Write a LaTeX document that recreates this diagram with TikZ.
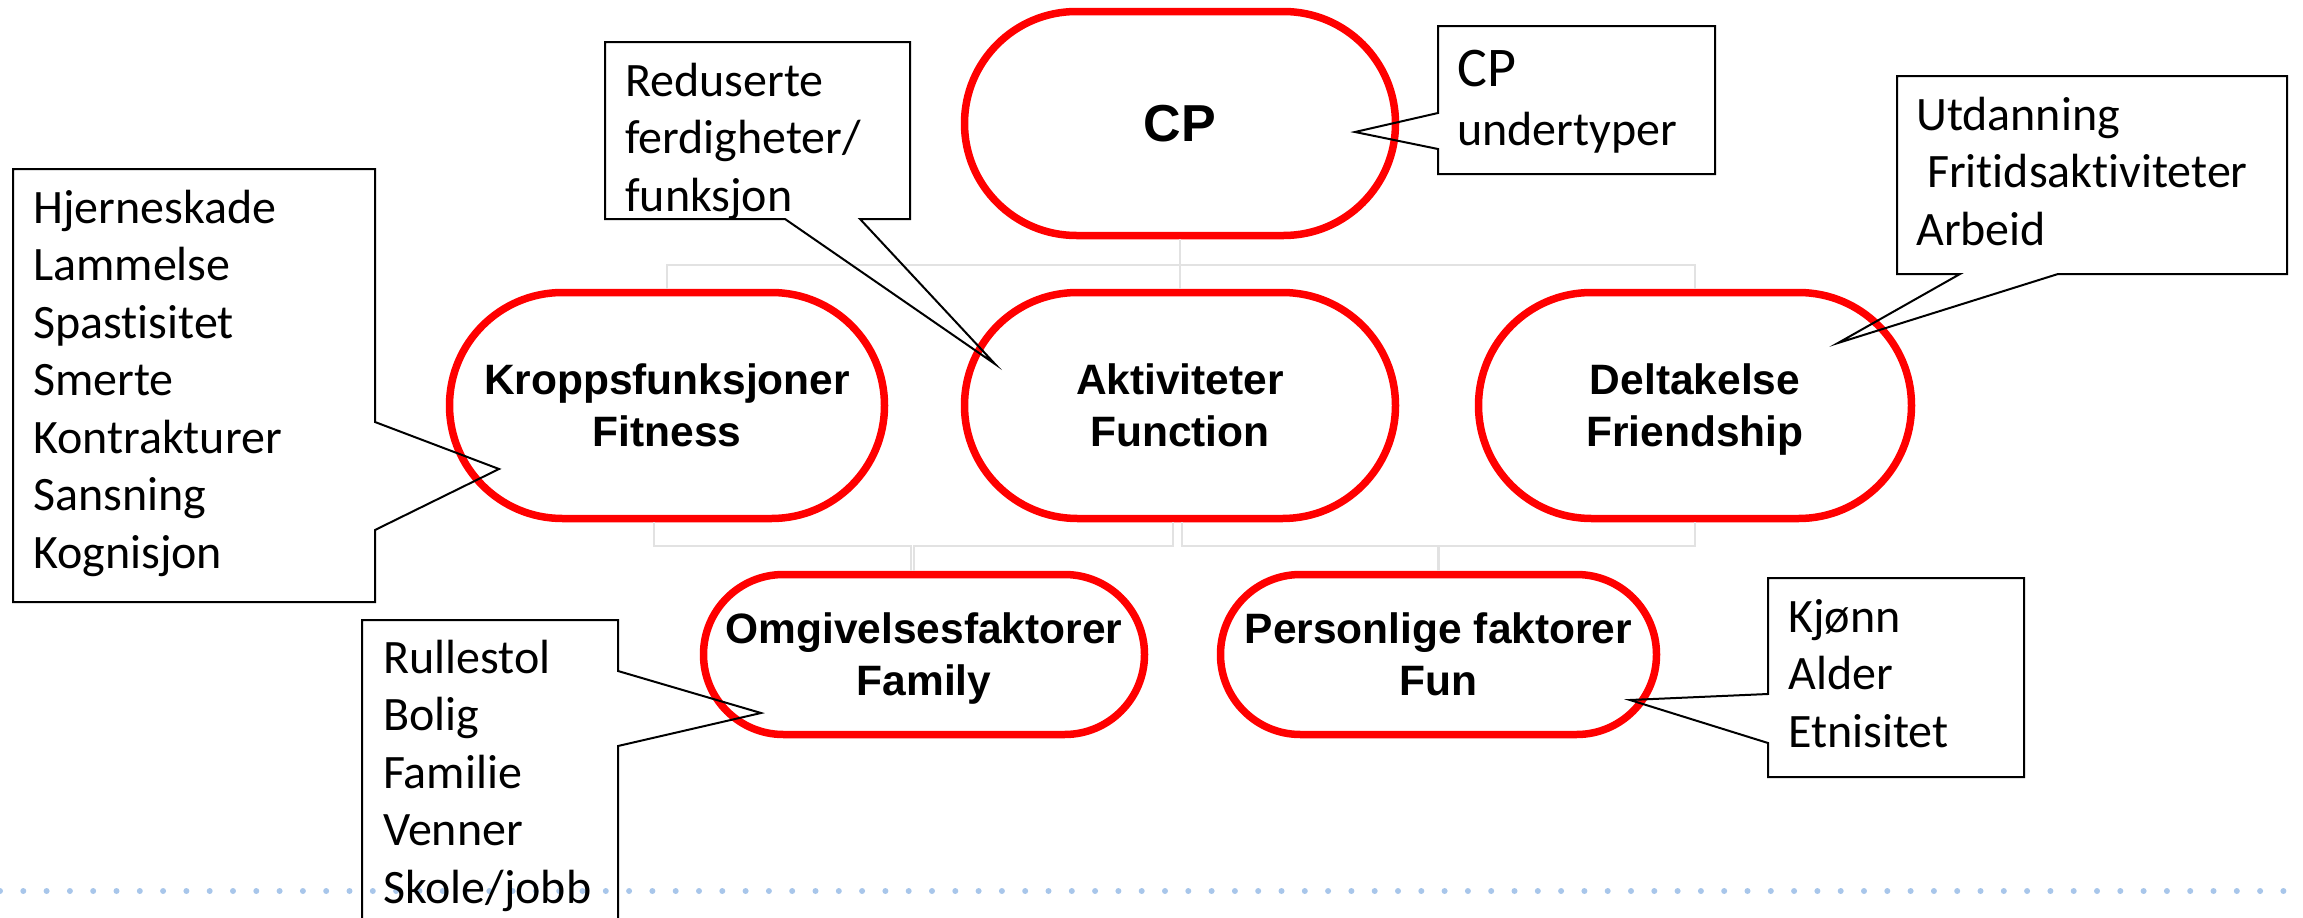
\documentclass[tikz,border=0pt]{standalone}
\usepackage{fontspec}
\setmainfont{Carlito}[Ligatures=NoCommon]
\newfontfamily\arialfont{Liberation Sans}
\usetikzlibrary{positioning}

\definecolor{linkgray}{RGB}{226,226,226}
\definecolor{dotblue}{RGB}{168,198,234}

\tikzset{
  pill/.style={rectangle, draw=red, line width=7.5pt, align=center, inner sep=0pt, text depth=0pt,
    font=\arialfont\bfseries\fontsize{42.5}{52}\selectfont},
  link/.style={draw=linkgray, line width=2.2pt},
  callout/.style={draw=black, line width=2pt, line join=miter},
  note/.style={anchor=base west, align=left, inner sep=0pt,
    font=\fontsize{48}{57.5}\selectfont},
  dotline/.style={draw=dotblue, line width=6pt, line cap=round, dash pattern=on 0pt off 23.3pt},
}

\begin{document}
\begin{tikzpicture}[x=1pt,y=1pt,yscale=-1,xscale=1]
        %set diagram size
        \path[use as bounding box] (0,0) rectangle (2303,918);

        %Straight Lines: dotted footer
        \draw[dotline] (0,891) -- (2303,891);

        %Shape: Rounded Rect
        \node[pill, minimum width=431pt, minimum height=224pt, rounded corners=111.9pt,
          font=\arialfont\bfseries\fontsize{52}{60}\selectfont] (cp) at (1180,123.5) {CP};
        %Shape: Rounded Rect
        \node[pill, minimum width=435pt, minimum height=226pt, rounded corners=112.9pt] (kropp) at (667,405.5) {Kroppsfunksjoner\\Fitness};
        %Shape: Rounded Rect
        \node[pill, minimum width=431pt, minimum height=226pt, rounded corners=112.9pt] (aktiv) at (1180,405.5) {Aktiviteter\\Function};
        %Shape: Rounded Rect
        \node[pill, minimum width=433pt, minimum height=226pt, rounded corners=112.9pt] (delta) at (1695,405.5) {Deltakelse\\Friendship};
        %Shape: Rounded Rect
        \node[pill, minimum width=441pt, minimum height=160pt, rounded corners=79.9pt] (omgiv) at (924,654.5) {Omgivelsesfaktorer\\Family};
        %Shape: Rounded Rect
        \node[pill, minimum width=436pt, minimum height=160pt, rounded corners=79.9pt] (person) at (1438.5,654.5) {Personlige faktorer\\Fun};

        %Connectors
        \draw[link] (cp.south) -- ++(0,26) -| (kropp.north);
        \draw[link] (cp.south) -- (aktiv.north);
        \draw[link] (cp.south) -- ++(0,26) -| (delta.north);
        \draw[link] ([xshift=-13pt]kropp.south) -- ++(0,24) -| ([xshift=-13pt]omgiv.north);
        \draw[link] ([xshift=-7pt]aktiv.south) -- ++(0,24) -| ([xshift=-10pt]omgiv.north);
        \draw[link] ([xshift=2pt]aktiv.south) -- ++(0,24) -| (person.north);
        \draw[link] (delta.south) -- ++(0,24) -| (person.north);

        %Shape: Callout (Kroppsfunksjoner)
        \draw[callout] (13,169) -- (375,169) -- (375,422) -- (499,469) -- (375,530) -- (375,602) -- (13,602) -- cycle;
        %Shape: Callout (Aktiviteter)
        \draw[callout] (605,42) -- (910,42) -- (910,219) -- (860,219) -- (995,364) -- (785,219) -- (605,219) -- cycle;
        %Shape: Callout (CP)
        \draw[callout] (1438,26) -- (1715,26) -- (1715,174) -- (1438,174) -- (1438,149) -- (1355,132) -- (1438,113) -- cycle;
        %Shape: Callout (Deltakelse)
        \draw[callout] (1897,76) -- (2287,76) -- (2287,274) -- (2058,274) -- (1838,343) -- (1960,274) -- (1897,274) -- cycle;
        %Shape: Callout (Omgivelsesfaktorer)
        \draw[callout] (362,930) -- (362,620) -- (618,620) -- (618,671) -- (761,713) -- (618,746) -- (618,930);
        %Shape: Callout (Personlige faktorer)
        \draw[callout] (1768,578) -- (2024,578) -- (2024,777) -- (1768,777) -- (1768,743) -- (1630,700) -- (1768,694) -- cycle;

        % Text Node (anchored at last baseline)
        \node[note] (hjerne) at (33,568) {Hjerneskade\\Lammelse\\Spastisitet\\Smerte\\Kontrakturer\\Sansning\\Kognisjon};
        % Text Node
        \node[note] (redus) at (625,211) {Reduserte\\ferdigheter/\\funksjon};
        % Text Node
        \node[note, font=\fontsize{48}{59}\selectfont] (cpsub) at (1457,145) {{\fontsize{56}{59}\selectfont CP}\\undertyper};
        % Text Node
        \node[note] (utdann) at (1916,245) {Utdanning\\\ Fritidsaktiviteter\\Arbeid};
        % Text Node
        \node[note] (rulle) at (383,903) {Rullestol\\Bolig\\Familie\\Venner\\Skole/jobb};
        % Text Node
        \node[note] (kjonn) at (1788,747) {Kjønn\\Alder\\Etnisitet};

\end{tikzpicture}
\end{document}
